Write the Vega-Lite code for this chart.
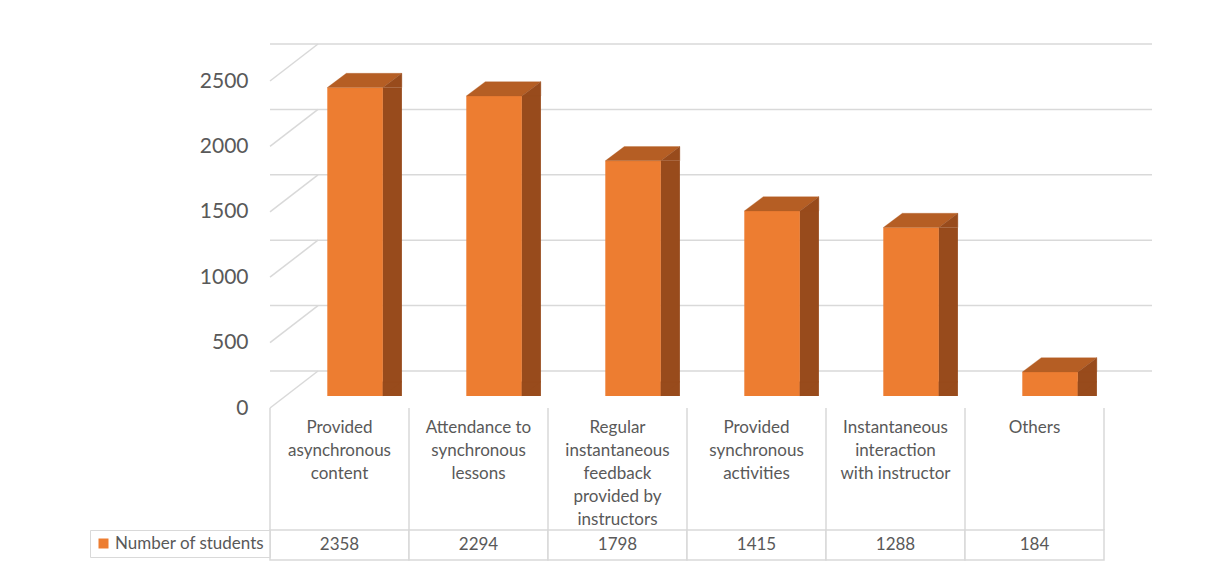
{
  "$schema": "https://vega.github.io/schema/vega-lite/v6.json",
  "autosize": {"type": "none"},
  "padding": {"left": 270, "top": 44, "right": 944, "bottom": 528},
  "background": "white",
  "spacing": 0,
  "bounds": "flush",
  "config": {"view": {"stroke": null}, "font": "Lato"},
  "resolve": {"scale": {"color": "independent"}, "legend": {"color": "independent"}},
  "datasets": {
    "main": [
      {"cat": "Provided asynchronous content", "label": "Provided\nasynchronous\ncontent", "value": 2358},
      {"cat": "Attendance to synchronous lessons", "label": "Attendance to\nsynchronous\nlessons", "value": 2294},
      {"cat": "Regular instantaneous feedback provided by instructors", "label": "Regular\ninstantaneous\nfeedback\nprovided by\ninstructors", "value": 1798},
      {"cat": "Provided synchronous activities", "label": "Provided\nsynchronous\nactivities", "value": 1415},
      {"cat": "Instantaneous interaction with instructor", "label": "Instantaneous\ninteraction\nwith instructor", "value": 1288},
      {"cat": "Others", "label": "Others", "value": 184}
    ],
    "ticks": [
      {"tick": 0}, {"tick": 500}, {"tick": 1000}, {"tick": 1500}, {"tick": 2000}, {"tick": 2500}
    ]
  },
  "vconcat": [
    {
      "width": 834,
      "height": 364,
      "encoding": {
        "y": {"type": "quantitative", "scale": {"domain": [0, 2783], "nice": false, "zero": true},
          "axis": {"values": [0, 500, 1000, 1500, 2000, 2500], "format": "d", "domain": false, "ticks": false, "grid": false, "title": null,
            "labelFontSize": 21, "labelColor": "#595959", "labelPadding": 22, "labelFont": "Lato"}}
      },
      "layer": [
        {
          "data": {"name": "ticks"},
          "mark": {"type": "rule", "color": "#d9d9d9", "strokeWidth": 1.5, "xOffset": 48, "x2Offset": 46, "yOffset": -37},
          "encoding": {"y": {"field": "tick", "type": "quantitative"}}
        },
        {
          "data": {"name": "ticks"},
          "mark": {"type": "point", "shape": "M 0 0 L 48 -37", "size": 4, "filled": false, "opacity": 1, "stroke": "#d9d9d9", "strokeWidth": 1.5},
          "encoding": {
            "x": {"datum": "Provided asynchronous content", "type": "nominal", "bandPosition": 0, "axis": null},
            "y": {"field": "tick", "type": "quantitative"}
          }
        },
        {
          "data": {"name": "main"},
          "mark": {"type": "bar", "color": "#ED7D31", "width": {"band": 0.4}, "xOffset": 15.6, "yOffset": -12, "y2Offset": -12},
          "encoding": {
            "x": {"field": "cat", "type": "nominal", "sort": null, "axis": null, "scale": {"paddingInner": 0, "paddingOuter": 0}},
            "y": {"field": "value", "type": "quantitative"}
          }
        },
        {
          "data": {"name": "main"},
          "mark": {"type": "bar", "color": "#984B1C", "width": 19, "xOffset": 52.9, "yOffset": -12, "y2Offset": -26.3},
          "encoding": {
            "x": {"field": "cat", "type": "nominal", "sort": null, "axis": null},
            "y": {"field": "value", "type": "quantitative"}
          }
        },
        {
          "data": {"name": "main"},
          "mark": {"type": "point", "shape": "M -27.8 0 L 27.8 0 L 46.8 -14.3 L -8.8 -14.3 Z", "size": 4, "filled": true, "opacity": 1, "fill": "#B55E24", "stroke": "#B55E24", "strokeWidth": 0.3, "xOffset": 15.6, "yOffset": -12},
          "encoding": {
            "x": {"field": "cat", "type": "nominal", "sort": null, "axis": null},
            "y": {"field": "value", "type": "quantitative"}
          }
        },
        {
          "data": {"name": "main"},
          "mark": {"type": "point", "shape": "M 27.8 0 L 46.8 -14.3 L 46.8 0 Z", "size": 4, "filled": true, "opacity": 1, "fill": "#984B1C", "stroke": "#984B1C", "strokeWidth": 0.3, "xOffset": 15.6, "yOffset": -12},
          "encoding": {
            "x": {"field": "cat", "type": "nominal", "sort": null, "axis": null},
            "y": {"field": "value", "type": "quantitative"}
          }
        },
        {
          "data": {"name": "main"},
          "mark": {"type": "point", "shape": "M 27.8 -14.3 L 27.8 0 L 46.8 -14.3 Z", "size": 4, "filled": true, "opacity": 1, "fill": "#984B1C", "stroke": "#984B1C", "strokeWidth": 0.3, "xOffset": 15.6, "yOffset": -12},
          "encoding": {
            "x": {"field": "cat", "type": "nominal", "sort": null, "axis": null},
            "y": {"datum": 0, "type": "quantitative"}
          }
        }
      ]
    },
    {
      "width": 834,
      "height": 122,
      "data": {"name": "main"},
      "layer": [
        {
          "mark": {"type": "rule", "color": "#d9d9d9", "strokeWidth": 1.5},
          "encoding": {"x": {"field": "cat", "type": "nominal", "sort": null, "bandPosition": 0, "axis": null, "scale": {"paddingInner": 0, "paddingOuter": 0}}}
        },
        {
          "transform": [{"filter": "datum.cat === 'Others'"}],
          "mark": {"type": "rule", "color": "#d9d9d9", "strokeWidth": 1.5},
          "encoding": {"x": {"field": "cat", "type": "nominal", "sort": null, "bandPosition": 1, "axis": null}}
        },
        {
          "mark": {"type": "text", "baseline": "top", "lineBreak": "\n", "fontSize": 17, "lineHeight": 23, "color": "#595959", "yOffset": -49},
          "encoding": {
            "x": {"field": "cat", "type": "nominal", "sort": null, "axis": null},
            "text": {"field": "label"}
          }
        }
      ]
    },
    {
      "width": 834,
      "height": 30,
      "data": {"name": "main"},
      "layer": [
        {
          "mark": {"type": "bar", "fill": "white", "stroke": "#d9d9d9", "strokeWidth": 1.5},
          "encoding": {"x": {"field": "cat", "type": "nominal", "sort": null, "axis": null, "scale": {"paddingInner": 0, "paddingOuter": 0}}}
        },
        {
          "mark": {"type": "text", "baseline": "middle", "fontSize": 17, "color": "#595959"},
          "encoding": {
            "x": {"field": "cat", "type": "nominal", "sort": null, "axis": null},
            "text": {"field": "value", "type": "quantitative"}
          }
        },
        {
          "transform": [{"filter": "false"}],
          "mark": {"type": "square", "filled": true, "opacity": 1},
          "encoding": {
            "color": {"datum": "Number of students", "type": "nominal", "scale": {"range": ["#ED7D31"]},
              "legend": {"orient": "left", "offset": 0, "padding": 5, "strokeColor": "#d9d9d9", "symbolType": "square", "symbolSize": 100, "symbolStrokeWidth": 0, "labelFontSize": 17, "labelColor": "#595959", "labelFont": "Lato", "title": null, "labelOffset": 3}}
          }
        }
      ]
    }
  ]
}
